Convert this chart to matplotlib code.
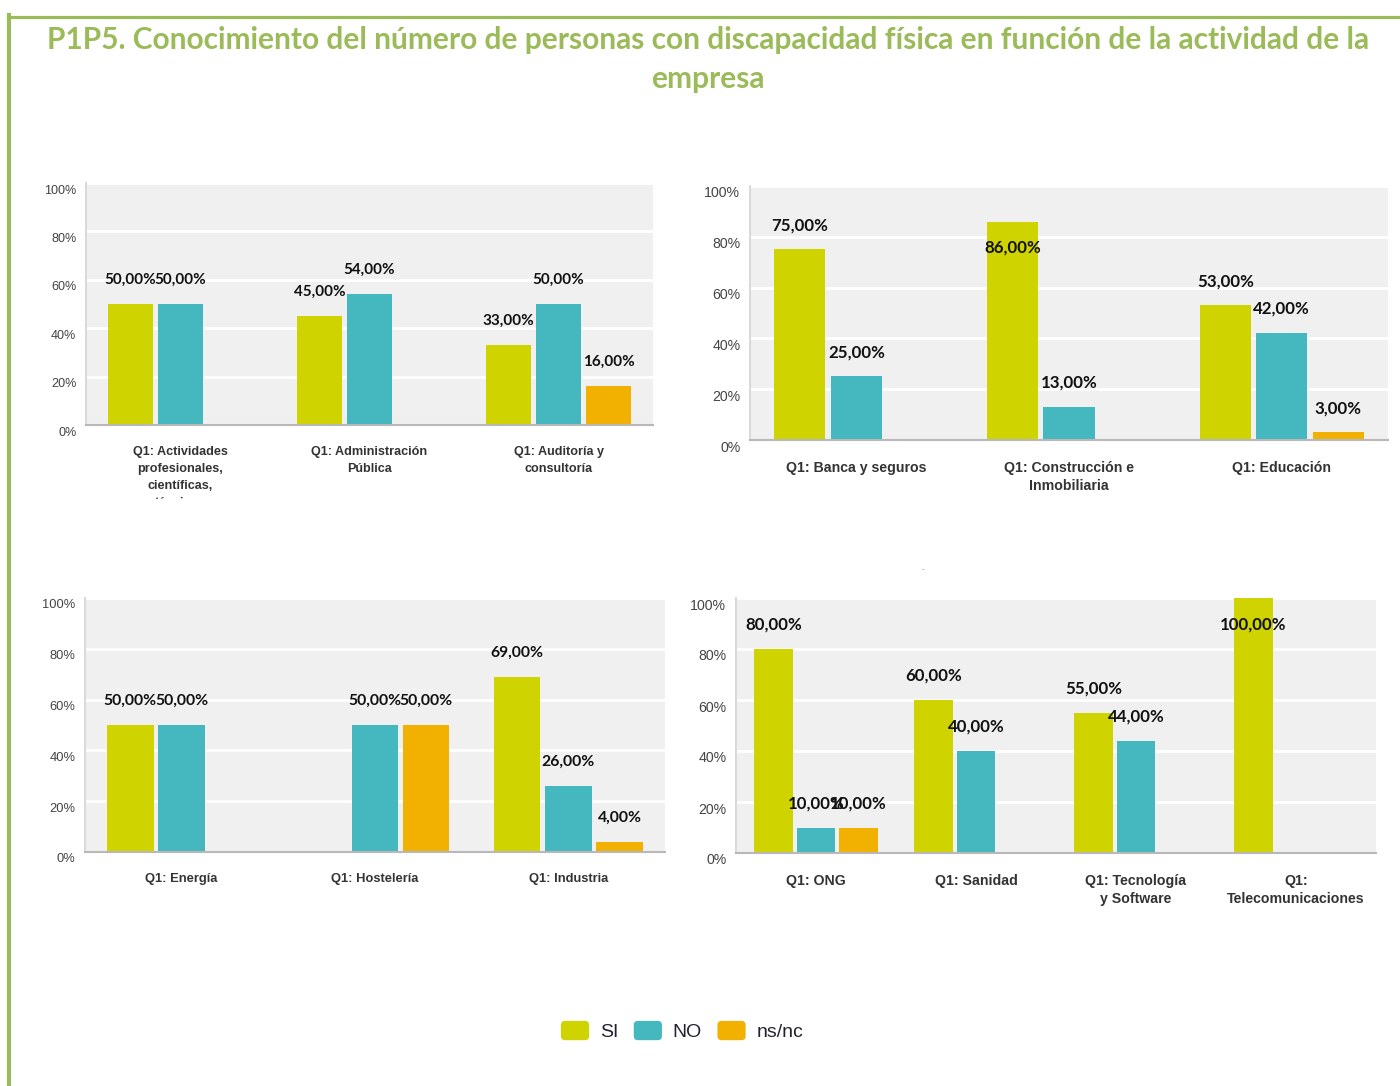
import matplotlib
matplotlib.use("Agg")
import matplotlib.pyplot as plt
from matplotlib.transforms import ScaledTranslation, Bbox, TransformedBbox
from matplotlib.patches import Patch, FancyBboxPatch
from matplotlib.legend_handler import HandlerPatch
from matplotlib.lines import Line2D

# ---------------- data ----------------
series_names = ["SI", "NO", "ns/nc"]
series_colors = ["#CFD400", "#45B8BF", "#F2B100"]

p1_categories = ["Q1: Actividades\nprofesionales,\ncientíficas,\ntécnicas",
                 "Q1: Administración\nPública",
                 "Q1: Auditoría y\nconsultoría"]
p1_si = [50, 45, 33]
p1_no = [50, 54, 50]
p1_ns = [None, None, 16]

p2_categories = ["Q1: Banca y seguros", "Q1: Construcción e\nInmobiliaria", "Q1: Educación"]
p2_si = [75, 86, 53]
p2_no = [25, 13, 42]
p2_ns = [None, None, 3]

p3_categories = ["Q1: Energía", "Q1: Hostelería", "Q1: Industria"]
p3_si = [50, None, 69]
p3_no = [50, 50, 26]
p3_ns = [None, 50, 4]

p4_categories = ["Q1: ONG", "Q1: Sanidad", "Q1: Tecnología\ny Software", "Q1:\nTelecomunicaciones"]
p4_si = [80, 60, 55, 100]
p4_no = [10, 40, 44, None]
p4_ns = [10, None, None, None]

y_ticks = [0, 20, 40, 60, 80, 100]
y_tick_labels = ["0%", "20%", "40%", "60%", "80%", "100%"]

title_line1 = "P1P5. Conocimiento del número de personas con discapacidad física en función de la actividad de la"
title_line2 = "empresa"

# ---------------- figure ----------------
W, H = 1400, 1086
fig = plt.figure(figsize=(W / 100, H / 100), dpi=100)
fig.patch.set_facecolor("white")

GREEN = "#9BBB59"


def px_rect(left, right, top, bottom):
    return [left / W, (H - bottom) / H, (right - left) / W, (bottom - top) / H]


# border lines
fig.add_artist(Line2D([8 / W, 1.0], [1 - 16.5 / H, 1 - 16.5 / H], color=GREEN, lw=2.3,
                      transform=fig.transFigure))
fig.add_artist(Line2D([9 / W, 9 / W], [0, 1 - 15 / H], color=GREEN, lw=3.0,
                      transform=fig.transFigure))

fig.text(708 / W, 1 - 40 / H, title_line1, ha="center", va="center", color=GREEN,
         fontsize=21.5, fontweight="bold", family="Lato")
fig.text(708 / W, 1 - 79 / H, title_line2, ha="center", va="center", color=GREEN,
         fontsize=21.5, fontweight="bold", family="Lato")

BAR_W = 0.24
SLOT = 0.265


def fmt(v):
    return ("%.2f" % v).replace(".", ",") + "%"


def draw_panel(rect, categories, si, no, ns, scale=1.0, label_size=11.0, linespacing=1.4,
               clip_bottom_px=None):
    ax = fig.add_axes(rect)
    ax.set_facecolor("#F0F0F0")
    n = len(categories)
    ax.set_xlim(-0.5, n - 0.5)
    ax.set_ylim(0, 100)
    for s, (vals, col) in enumerate(zip([si, no, ns], series_colors)):
        xs = [i + (s - 1) * SLOT for i, v in enumerate(vals) if v is not None]
        hs = [v for v in vals if v is not None]
        bars = ax.bar(xs, hs, width=BAR_W, color=col, zorder=3, linewidth=0)
        for b, v in zip(bars, hs):
            cx = b.get_x() + b.get_width() / 2
            dy = -19 if v > 85 else 17.5
            ax.annotate(fmt(v), (cx, v), xytext=(0, dy), textcoords="offset points",
                        ha="center", va="center", fontsize=label_size, fontweight="bold",
                        family="Lato", color="#111111", zorder=5)
    ax.set_yticks(y_ticks)
    ax.set_yticklabels(y_tick_labels)
    ax.set_xticks(range(n))
    ax.set_xticklabels(categories, fontweight="bold", fontsize=8.3 * scale, color="#333333",
                       linespacing=linespacing, family="Liberation Sans")
    ax.tick_params(axis="both", length=0)
    ax.tick_params(axis="y", pad=7, labelsize=8.3 * scale, labelcolor="#444444")
    ax.tick_params(axis="x", pad=15)
    for lab in ax.get_yticklabels():
        lab.set_family("Liberation Sans")
        lab.set_transform(lab.get_transform() + ScaledTranslation(0, -6 / 100, fig.dpi_scale_trans))
    for lab in ax.get_xticklabels():
        lab.set_va("top")
    ax.grid(axis="y", color="white", lw=2, zorder=1)
    ax.set_axisbelow(True)
    for sp in ["top", "right"]:
        ax.spines[sp].set_visible(False)
    ax.spines["left"].set_color("#DADADA")
    ax.spines["left"].set_linewidth(1.5)
    ax.spines["bottom"].set_color("#B8B8B8")
    ax.spines["bottom"].set_linewidth(1.5)
    ax.spines["left"].set_zorder(4)
    ax.spines["bottom"].set_zorder(4)
    if clip_bottom_px is not None:
        cb = TransformedBbox(Bbox([[0, (H - clip_bottom_px) / H], [1, 1]]), fig.transFigure)
        for lab in ax.get_xticklabels():
            lab.set_clip_box(cb)
            lab.set_clip_on(True)
    return ax


draw_panel(px_rect(86, 653, 183, 425), p1_categories, p1_si, p1_no, p1_ns,
           scale=1.1, label_size=11.0, linespacing=1.58, clip_bottom_px=499)
draw_panel(px_rect(750, 1388, 186, 440), p2_categories, p2_si, p2_no, p2_ns,
           scale=1.22, label_size=12.2)
draw_panel(px_rect(85, 665, 598, 852), p3_categories, p3_si, p3_no, p3_ns,
           scale=1.12, label_size=11.3)
draw_panel(px_rect(736, 1376, 598, 853), p4_categories, p4_si, p4_no, p4_ns,
           scale=1.22, label_size=12.2)

# small stray mark
fig.text(923 / W, 1 - 569 / H, "-", fontsize=5, color="#888888", ha="center", va="center")


class RoundHandler(HandlerPatch):
    def create_artists(self, legend, orig_handle, xdescent, ydescent, width, height,
                       fontsize, trans):
        p = FancyBboxPatch((-xdescent, -ydescent), width, height,
                           boxstyle="round,pad=0,rounding_size=3",
                           facecolor=orig_handle.get_facecolor(), edgecolor="none",
                           transform=trans)
        return [p]


handles = [Patch(facecolor=c, label=n) for c, n in zip(series_colors, series_names)]
fig.legend(handles=handles, loc="center", bbox_to_anchor=(682 / W, 1 - 1031 / H), ncol=3,
           frameon=False, prop={"family": "Liberation Sans", "size": 14},
           handlelength=1.45, handleheight=1.15, handletextpad=0.55, columnspacing=0.8,
           handler_map={Patch: RoundHandler()}, labelcolor="#222233")

fig.savefig("out.png", dpi=100, facecolor="white")
